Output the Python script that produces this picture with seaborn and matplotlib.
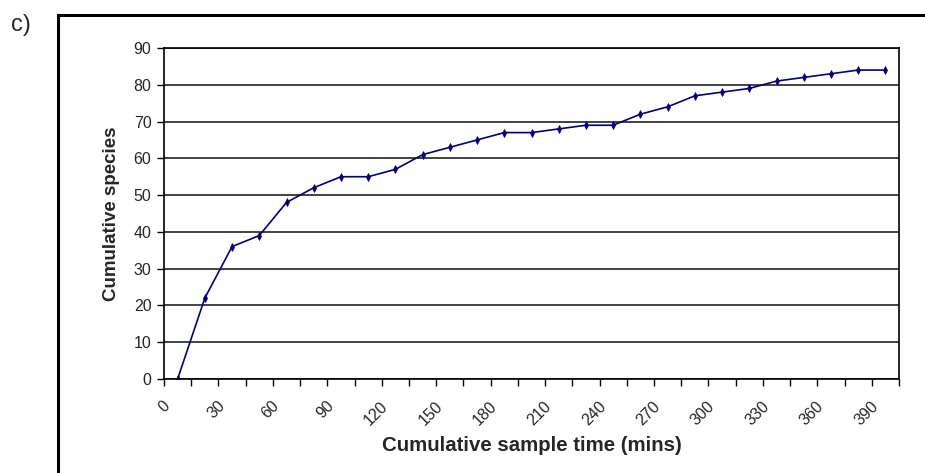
import matplotlib
matplotlib.use("Agg")
import matplotlib.pyplot as plt
from matplotlib.patches import Rectangle
from matplotlib.transforms import ScaledTranslation
import seaborn as sns
import pandas as pd

# Cumulative sample time (mins) for each sampling interval
sample_time = [0, 15, 30, 45, 60, 75, 90, 105, 120, 135, 150, 165, 180, 195,
               210, 225, 240, 255, 270, 285, 300, 315, 330, 345, 360, 375, 390]
# Cumulative number of species recorded
cumulative_species = [0, 22, 36, 39, 48, 52, 55, 55, 57, 61, 63, 65, 67, 67,
                      68, 69, 69, 72, 74, 77, 78, 79, 81, 82, 83, 84, 84]
# Labelled categories on the x axis
x_tick_labels = ["0", "30", "60", "90", "120", "150", "180", "210", "240",
                 "270", "300", "330", "360", "390"]
y_ticks = [0, 10, 20, 30, 40, 50, 60, 70, 80, 90]

sns.set_theme(style="white")
plt.rcParams["font.family"] = ["Liberation Sans", "DejaVu Sans"]

df = pd.DataFrame({
    "pos": list(range(len(sample_time))),
    "time": sample_time,
    "species": cumulative_species,
})

W, H = 925, 473
fig = plt.figure(figsize=(W / 100, H / 100), dpi=100)
fig.patch.set_facecolor("white")

# Outer chart-area frame (runs off the right and bottom edges)
fig.patches.append(Rectangle((58 / W, -0.2), 1.2, 1.2 - 15 / H,
                             transform=fig.transFigure, fill=False,
                             edgecolor="black", linewidth=2.2, zorder=0))
fig.text(11 / W, 1 - 25 / H, "c)", fontsize=17, ha="left", va="center")

left, right, bottom, top = 164, 899, 379, 48
ax = fig.add_axes([left / W, 1 - bottom / H, (right - left) / W, (bottom - top) / H])
ax.set_facecolor("white")

sns.lineplot(data=df, x="pos", y="species", ax=ax, color="#000080",
             linewidth=1.2, marker="d", markersize=4, markeredgewidth=0.5,
             markeredgecolor="#000080", markerfacecolor="#000080")

n = len(sample_time)
ax.set_xlim(-0.5, n - 0.5)
ax.set_ylim(0, 90)

# Gridlines at each major y tick
ax.set_yticks(y_ticks)
ax.yaxis.grid(True, color="#222222", linewidth=1.2)
ax.xaxis.grid(False)
ax.set_axisbelow(True)

# Category boundary ticks (unlabelled) and labelled category centres
ax.set_xticks([i - 0.5 for i in range(n + 1)], minor=True)
label_pos = [i for i, t in enumerate(sample_time) if str(t) in x_tick_labels]
ax.set_xticks(label_pos)
ax.set_xticklabels(x_tick_labels, rotation=45, ha="right", va="top",
                   rotation_mode="anchor", fontsize=11.5)
ax.tick_params(axis="x", which="major", length=0, pad=14)
ax.tick_params(axis="x", which="minor", length=5, width=1.0, color="black",
               direction="out", bottom=True)
ax.tick_params(axis="y", which="major", length=5, width=1.0, color="black",
               direction="out", left=True, labelsize=11.5, pad=4)
shift = ScaledTranslation(-15 / 100, 0, fig.dpi_scale_trans)
for lab in ax.get_xticklabels():
    lab.set_transform(lab.get_transform() + shift)

for side in ["left", "right", "top", "bottom"]:
    ax.spines[side].set_visible(True)
    ax.spines[side].set_color("black")
    ax.spines[side].set_linewidth(1.2)

ax.set_xlabel("Cumulative sample time (mins)", fontsize=14.7, fontweight="bold",
              labelpad=6)
ax.set_ylabel("Cumulative species", fontsize=13.5, fontweight="bold", labelpad=10)

fig.savefig("out.png", dpi=100)
